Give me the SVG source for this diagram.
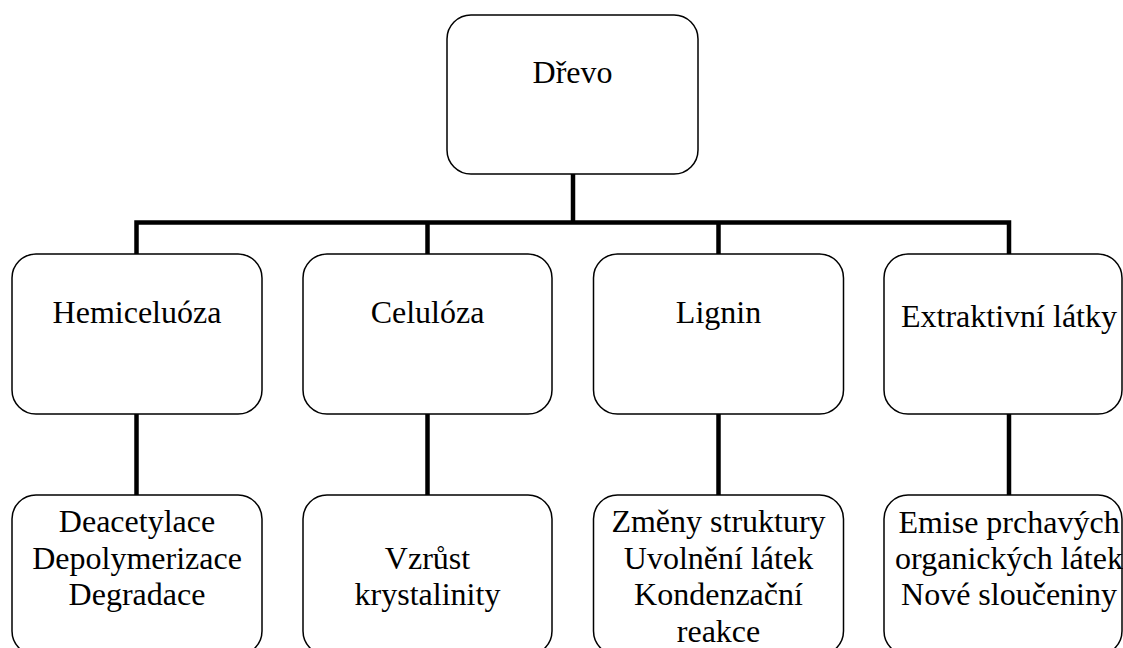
<svg xmlns="http://www.w3.org/2000/svg" width="1123" height="648" viewBox="0 0 1123 648">
<style>
.box{fill:#fff;stroke:#000;stroke-width:1.5}
.t{font-family:'Liberation Serif',Tinos,'Times New Roman','DejaVu Serif',serif;font-size:32px;fill:#000;text-anchor:middle}
.c{fill:none;stroke:#000;stroke-width:4.5;stroke-linecap:butt;stroke-linejoin:miter}
</style>
<rect width="1123" height="648" fill="#fff"/>
<g id="connectors">
<path class="c" d="M573,174 V222.5"/>
<path class="c" d="M136.5,254 V222.5 H1009 V254"/>
<path class="c" d="M427.5,222.5 V254"/>
<path class="c" d="M718.5,222.5 V254"/>
<path class="c" d="M136.5,414 V495"/>
<path class="c" d="M427.5,414 V495"/>
<path class="c" d="M718.5,414 V495"/>
<path class="c" d="M1009,414 V495"/>
</g>
<g id="drevo">
<rect class="box" x="447" y="15" width="251" height="159" rx="24"/>
<text class="t" x="572.5" y="83">Dřevo</text>
</g>
<g id="hemiceluoza">
<rect class="box" x="12" y="254" width="250" height="160" rx="24"/>
<text class="t" x="137" y="323">Hemiceluóza</text>
</g>
<g id="celuloza">
<rect class="box" x="303" y="254" width="249" height="160" rx="24"/>
<text class="t" x="427.5" y="323">Celulóza</text>
</g>
<g id="lignin">
<rect class="box" x="593.5" y="254" width="250" height="160" rx="24"/>
<text class="t" x="718.5" y="323">Lignin</text>
</g>
<g id="extraktivni">
<rect class="box" x="884" y="254" width="238" height="160" rx="24"/>
<text class="t" x="1009" y="327">Extraktivní látky</text>
</g>
<g id="hemi-zmeny">
<rect class="box" x="12" y="495" width="250" height="160" rx="24"/>
<text class="t" x="137" y="532">Deacetylace</text>
<text class="t" x="137" y="568.5">Depolymerizace</text>
<text class="t" x="137" y="605">Degradace</text>
</g>
<g id="celu-zmeny">
<rect class="box" x="303" y="495" width="249" height="160" rx="24"/>
<text class="t" x="427.5" y="568.5">Vzrůst</text>
<text class="t" x="427.5" y="605">krystalinity</text>
</g>
<g id="lignin-zmeny">
<rect class="box" x="593.5" y="495" width="250" height="160" rx="24"/>
<text class="t" x="718.5" y="532">Změny struktury</text>
<text class="t" x="718.5" y="568.5">Uvolnění látek</text>
<text class="t" x="718.5" y="605">Kondenzační</text>
<text class="t" x="718.5" y="641.5">reakce</text>
</g>
<g id="extr-zmeny">
<rect class="box" x="884" y="495" width="238" height="160" rx="24"/>
<text class="t" x="1009" y="533">Emise prchavých</text>
<text class="t" x="1009" y="569">organických látek</text>
<text class="t" x="1009" y="605">Nové sloučeniny</text>
</g>
</svg>
